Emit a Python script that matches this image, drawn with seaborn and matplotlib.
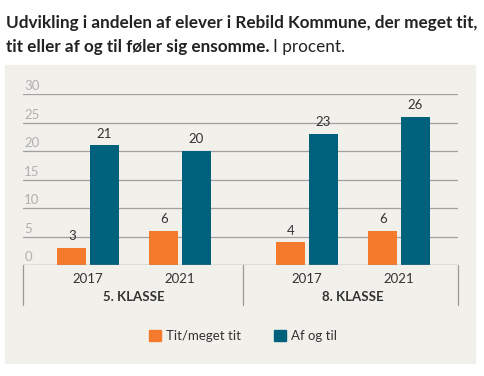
import pandas as pd
import matplotlib.pyplot as plt
import seaborn as sns
from matplotlib.patches import Rectangle, Patch
from matplotlib.lines import Line2D
import matplotlib.transforms as mtransforms

sns.set_style('white')
plt.rcParams['font.family'] = ['Lato', 'DejaVu Sans']

groups = ['5. KLASSE', '8. KLASSE']
years = ['2017', '2021']
series = ['Tit/meget tit', 'Af og til']
tit = [3, 6, 4, 6]
af_og_til = [21, 20, 23, 26]
yticks = [0, 5, 10, 15, 20, 25, 30]

orange = '#f47b2b'
teal = '#00617c'
panel = '#f2f0eb'
text_dark = '#333333'

group_step = 2.38  # distance between the two class groups on the x axis

rows = []
for i, g in enumerate(groups):
    for j, y in enumerate(years):
        k = i * len(years) + j
        pos = i * group_step + j
        rows.append({'pos': pos, 'serie': series[0], 'value': tit[k]})
        rows.append({'pos': pos, 'serie': series[1], 'value': af_og_til[k]})
df = pd.DataFrame(rows)

fig = plt.figure(figsize=(4.85, 3.76), dpi=100)
fig.patches.append(Rectangle((5 / 485, 1 - 363 / 376), 470 / 485, 298 / 376,
                             transform=fig.transFigure, color=panel, zorder=-5))

ax = fig.add_axes([23 / 485, 1 - 265 / 376, 435 / 485, 171 / 376])
ax.set_zorder(2)
ax.patch.set_alpha(0)
sns.barplot(data=df, x='pos', y='value', hue='serie', native_scale=True,
            palette=[orange, teal], width=0.7, gap=0.1, ax=ax, legend=False,
            saturation=1, linewidth=0, edgecolor='none', zorder=3)

ax.set_xlim(-0.707, 4.022)
ax.set_ylim(0, 30)
ax.set_xticks([])
ax.set_yticks([])
ax.set_xlabel('')
ax.set_ylabel('')
for s in ax.spines.values():
    s.set_visible(False)

tr = mtransforms.blended_transform_factory(ax.transAxes, ax.transData)
for t in yticks:
    if t > 0:
        ax.axhline(t, color='#a0a0a0', lw=0.9, zorder=1)
    ax.text(0.003, t + 0.3, str(t), transform=tr, ha='left', va='bottom',
            fontsize=9.5, color='#b0b0b0')
ax.axhline(0, color='#8a8a8a', lw=1.0, zorder=4)

for c in ax.containers:
    ax.bar_label(c, padding=4, fontsize=9.5, color=text_dark)

# category axis below the plot
trx = mtransforms.blended_transform_factory(ax.transData, ax.transAxes)
seps = [-0.707, (1 + group_step) / 2, 4.022]
for s in seps:
    ax.add_line(Line2D([s, s], [0, -0.235], transform=trx, color='#999999',
                       lw=0.9, clip_on=False))
for i, g in enumerate(groups):
    for j, y in enumerate(years):
        ax.text(i * group_step + j, -0.082, y, transform=trx, ha='center',
                va='center', fontsize=9.5, color=text_dark)
    ax.text(i * group_step + 0.5, -0.19, g, transform=trx, ha='center',
            va='center', fontsize=9.5, fontweight='bold', color=text_dark)

handles = [Patch(color=orange), Patch(color=teal)]
ax.legend(handles, series, loc='center', bbox_to_anchor=(243 / 485, 1 - 336 / 376),
          bbox_transform=fig.transFigure, ncol=2, frameon=False, fontsize=9.5,
          handlelength=0.9, handleheight=0.9, handletextpad=0.4, columnspacing=2.5,
          labelcolor=text_dark)

fig.text(6 / 485, 1 - 28 / 376, 'Udvikling i andelen af elever i Rebild Kommune, der meget tit,',
         fontsize=12.3, fontweight='bold', color='#222222', va='baseline')
t2 = fig.text(6 / 485, 1 - 52 / 376, 'tit eller af og til føler sig ensomme.',
              fontsize=12.3, fontweight='bold', color='#222222', va='baseline')
fig.canvas.draw()
bb = t2.get_window_extent()
fig.text(bb.x1 / fig.bbox.width + 4 / 485, 1 - 52 / 376, 'I procent.',
         fontsize=12.3, color='#222222', va='baseline')

fig.savefig('out.png', dpi=100)
